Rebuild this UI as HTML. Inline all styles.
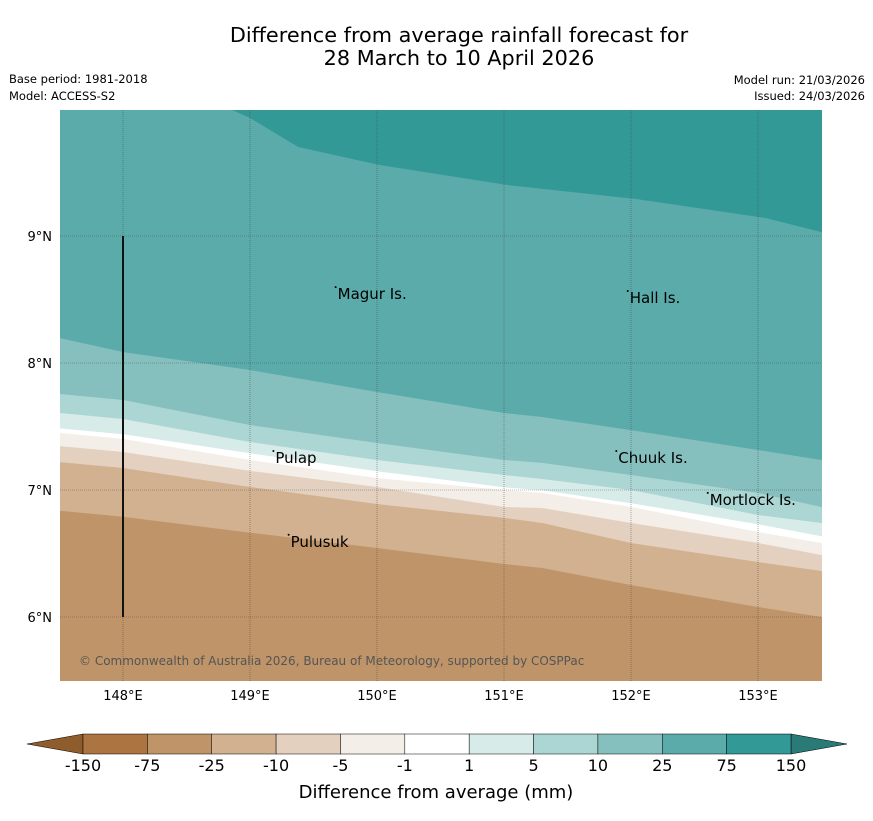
<!DOCTYPE html>
<html><head><meta charset="utf-8">
<style>
html,body{margin:0;padding:0;background:#fff;}
body{width:873px;height:816px;overflow:hidden;font-family:"Liberation Sans","DejaVu Sans",sans-serif;}
svg text{font-family:"DejaVu Sans","Liberation Sans",sans-serif;}
</style></head>
<body>
<svg id="chart" width="873" height="816" viewBox="0 0 873 816" xmlns="http://www.w3.org/2000/svg">
  <text x="459" y="42" font-size="20.8" text-anchor="middle" fill="#000">Difference from average rainfall forecast for</text>
  <text x="459" y="65" font-size="20.8" text-anchor="middle" fill="#000">28 March to 10 April 2026</text>
  <text x="9" y="83" font-size="11.5">Base period: 1981-2018</text>
  <text x="9" y="100" font-size="11.5">Model: ACCESS-S2</text>
  <text x="865" y="84" font-size="11.5" text-anchor="end">Model run: 21/03/2026</text>
  <text x="865" y="100" font-size="11.5" text-anchor="end">Issued: 24/03/2026</text>
  <defs><clipPath id="plotclip"><rect x="60" y="110" width="762" height="571"/></clipPath></defs>
  <g id="bands" clip-path="url(#plotclip)"></g>
  <g id="grid" clip-path="url(#plotclip)"></g>
  <g id="overlay"></g>
  <g id="colorbar"></g>
  <text x="436" y="798" font-size="18" text-anchor="middle">Difference from average (mm)</text>
</svg>
<script>
const NS="http://www.w3.org/2000/svg";
// contour boundaries (lat values at shared longitudes), bottom (dry) to top (wet)
const lons=[147.5,148,149,150,151,151.3,152,153,153.5];
const bnd_m25=[6.837,6.790,6.664,6.543,6.417,6.386,6.252,6.079,6.000];
const bnd_m10=[7.220,7.173,7.024,6.890,6.780,6.740,6.583,6.433,6.362];
const bnd_m5=[7.346,7.299,7.150,7.024,6.866,6.858,6.740,6.583,6.488];
const bnd_m1=[7.449,7.402,7.236,7.094,7.000,6.976,6.866,6.669,6.583];
const bnd_p1=[7.486,7.439,7.289,7.147,7.021,6.998,6.896,6.730,6.636];
const bnd_p5=[7.606,7.559,7.378,7.236,7.118,7.087,7.000,6.803,6.740];
const bnd_p10=[7.756,7.709,7.512,7.370,7.236,7.213,7.118,6.976,6.866];
const bnd_p25=[8.197,8.087,7.945,7.772,7.606,7.575,7.472,7.315,7.236];
const lons75=[147.5,148.86,149,149.38,150.02,151.02,152.04,153.06,153.5];
const bnd_p75=[10.0,9.992,9.929,9.701,9.559,9.402,9.291,9.142,9.031];
const levels=["-150","-75","-25","-10","-5","-1","1","5","10","25","75","150"];
const colors=["#ab7440","#bf9469","#d2b190","#e3d0bf","#f3eee8","#ffffff","#d7ebe9","#acd6d4","#85c0bf","#5aabaa","#339996"];
const gridLons=[148,149,150,151,152,153];
const gridLats=[6,7,8,9];
const places=[["Magur Is.",149.69,8.55],["Hall Is.",151.99,8.52],["Pulap",149.2,7.26],["Chuuk Is.",151.9,7.26],["Mortlock Is.",152.62,6.93],["Pulusuk",149.32,6.60]];

const X=lon=>123+(lon-148)*127;
const Y=lat=>236-(lat-9)*127;
function el(tag,attrs,parent){const e=document.createElementNS(NS,tag);for(const k in attrs)e.setAttribute(k,attrs[k]);parent.appendChild(e);return e;}
const bands=document.getElementById('bands');
let r=el('rect',{x:60,y:110,width:762,height:571,fill:colors[10]},bands);


const layers=[[lons75,bnd_p75,9,'band-25-to-75'],[lons,bnd_p25,8,'band-10-to-25'],[lons,bnd_p10,7,'band-5-to-10'],[lons,bnd_p5,6,'band-1-to-5'],[lons,bnd_p1,5,'band-minus1-to-1'],[lons,bnd_m1,4,'band-minus5-to-minus1'],[lons,bnd_m5,3,'band-minus10-to-minus5'],[lons,bnd_m10,2,'band-minus25-to-minus10'],[lons,bnd_m25,1,'band-minus75-to-minus25']];
layers.forEach(([lo,la,ci,name])=>{
  let pts=lo.map((l,i)=>X(l).toFixed(1)+','+Y(la[i]).toFixed(1));
  pts.push(X(153.6)+','+Y(la[la.length-1]));
  pts.push(X(153.6)+','+Y(5.4));pts.push(X(147.4)+','+Y(5.4));pts.push(X(147.4)+','+Y(la[0]));
  const p=el('polygon',{points:pts.join(' '),fill:colors[ci]},bands);
  
  
});
const grid=document.getElementById('grid');
gridLons.forEach(l=>{const g=el('line',{x1:X(l),x2:X(l),y1:110,y2:681,stroke:'#444',"stroke-width":0.6,"stroke-dasharray":"1,1","stroke-opacity":0.75},grid);
  
  });
gridLats.forEach(l=>{const g=el('line',{x1:60,x2:822,y1:Y(l),y2:Y(l),stroke:'#444',"stroke-width":0.6,"stroke-dasharray":"1,1","stroke-opacity":0.75},grid);
  
  });
const ov=document.getElementById('overlay');
let vl=el('line',{x1:X(148),x2:X(148),y1:Y(9),y2:Y(6),stroke:'#111',"stroke-width":2},ov);


gridLons.forEach(l=>{const t=el('text',{x:X(l),y:700,"font-size":13,"text-anchor":"middle"},ov);t.textContent=l+'°E';
  
  });
gridLats.forEach(l=>{const t=el('text',{x:52,y:Y(l)+5,"font-size":13,"text-anchor":"end"},ov);t.textContent=l+'°N';
  
  });
places.forEach(([n,lo,la])=>{const t=el('text',{x:X(lo),y:Y(la)+6,"font-size":15},ov);t.textContent=n;
  
  
  const d=el('circle',{cx:X(lo)-2,cy:Y(la)-6,r:1,fill:'#000'},ov);
  
  });
let cp=el('text',{x:79,y:665,"font-size":12,fill:'#555'},ov);cp.textContent='© Commonwealth of Australia 2026, Bureau of Meteorology, supported by COSPPac';


const cb=document.getElementById('colorbar');
const cx0=83,cx1=791,cy0=734,cy1=754,w=(cx1-cx0)/colors.length;
let lt=el('polygon',{points:`${cx0},${cy0} 27,744 ${cx0},${cy1}`,fill:'#8f5c2c',stroke:'#000',"stroke-width":0.5},cb);


let rt=el('polygon',{points:`${cx1},${cy0} 847,744 ${cx1},${cy1}`,fill:'#2a7a77',stroke:'#000',"stroke-width":0.5},cb);


colors.forEach((c,i)=>{const s=el('rect',{x:cx0+i*w,y:cy0,width:w,height:cy1-cy0,fill:c,stroke:'#000',"stroke-width":0.5},cb);
  
  });
levels.forEach((lv,i)=>{const t=el('text',{x:cx0+i*w,y:771,"font-size":16,"text-anchor":"middle"},cb);t.textContent=lv;
  
  });
</script>
</body></html>
